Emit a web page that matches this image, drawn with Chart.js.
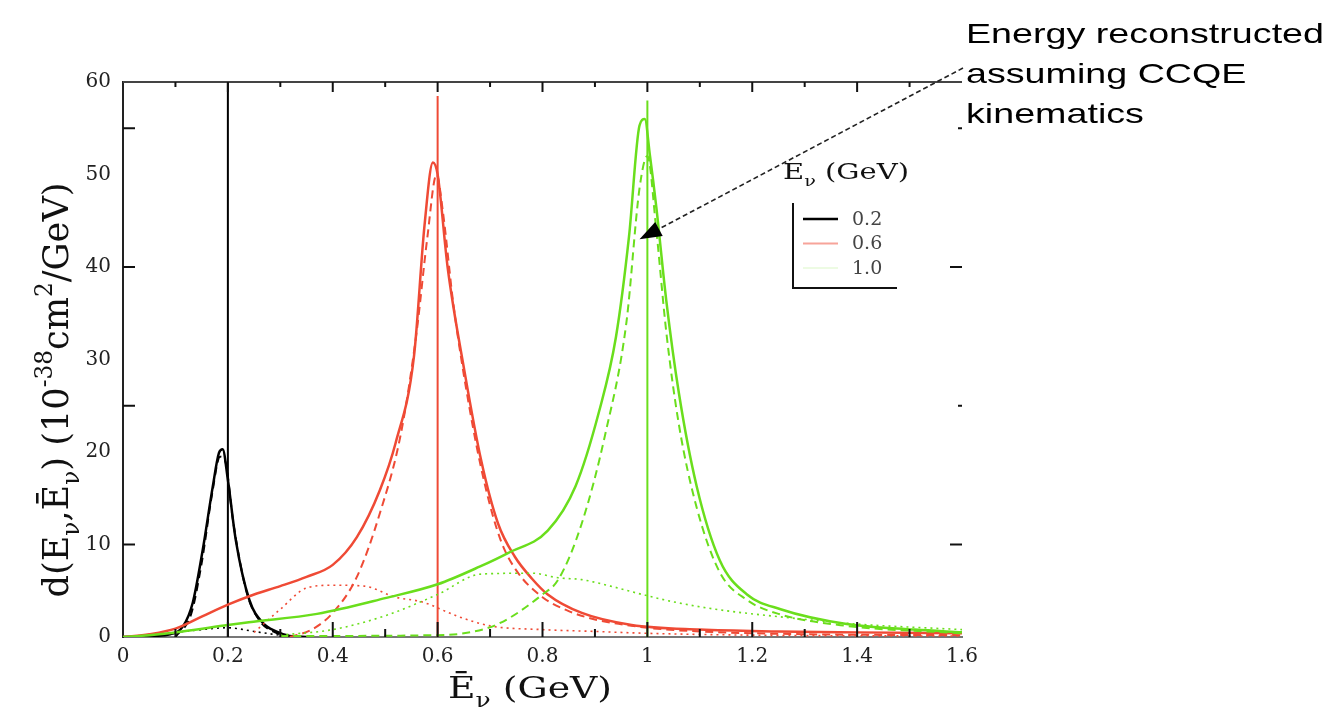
<!DOCTYPE html>
<html>
<head>
<meta charset="utf-8">
<script src="https://cdn.jsdelivr.net/npm/chart.js@4.4.1/dist/chart.umd.min.js"></script>
<style>
  body { margin: 0; background: #fff; }
  canvas { display: block; }
</style>
</head>
<body>
<canvas id="grafico" width="1327" height="707"></canvas>
<script>
// valores (x = E reconstruida en GeV, y = d(E,Ebar))
const e_negro_solida = [0.0, 0.05, 0.09, 0.115, 0.133, 0.152, 0.171, 0.183, 0.19, 0.2, 0.215, 0.241, 0.267, 0.292, 0.318, 0.35]
const y_negro_solida = [0, 0.1, 0.3, 1.2, 3.7, 9.4, 16.2, 19.9, 20.3, 17, 10.5, 4, 1.5, 0.6, 0.1, 0]
const e_negro_guiones = [0.1, 0.13, 0.15, 0.17, 0.185, 0.195, 0.21, 0.235, 0.26, 0.29, 0.33]
const y_negro_guiones = [0, 2.5, 8, 15.5, 19.5, 19, 12.5, 5, 1.8, 0.5, 0]
const e_negro_puntos = [0.02, 0.06, 0.1, 0.15, 0.2, 0.25, 0.3, 0.35]
const y_negro_puntos = [0, 0.2, 0.5, 0.8, 1.0, 0.6, 0.2, 0]

const e_rojo_solida = [0, 0.05, 0.1, 0.15, 0.2, 0.25, 0.3, 0.35, 0.4, 0.446, 0.49, 0.52, 0.555, 0.575, 0.591, 0.6, 0.619, 0.651, 0.683, 0.715, 0.747, 0.78, 0.81, 0.875, 0.97, 1.1, 1.25, 1.4, 1.6]
const y_rojo_solida = [0, 0.3, 0.9, 2.2, 3.5, 4.6, 5.5, 6.5, 7.8, 10.8, 15.9, 21, 30.4, 44.5, 51.3, 50, 40, 28.8, 19.1, 12.3, 8.7, 6.3, 4.6, 2.6, 1.3, 0.8, 0.6, 0.5, 0.4]
const e_rojo_guiones = [0.318, 0.36, 0.4, 0.446, 0.49, 0.53, 0.56, 0.58, 0.598, 0.61, 0.63, 0.66, 0.69, 0.72, 0.75, 0.8, 0.85, 0.9, 1.0, 1.1, 1.3, 1.6]
const y_rojo_guiones = [0, 0.8, 2.6, 6.5, 13.4, 22, 33, 43, 50, 46, 36, 25, 16.5, 10.5, 7.2, 4.3, 2.8, 1.9, 1.0, 0.6, 0.3, 0.2]
const e_rojo_puntos = [0.25, 0.3, 0.35, 0.4, 0.46, 0.52, 0.57, 0.64, 0.7, 0.8, 0.9, 1.0, 1.2, 1.6]
const y_rojo_puntos = [0.5, 3, 5.3, 5.6, 5.5, 4.3, 3.8, 2.2, 1.2, 0.8, 0.6, 0.4, 0.2, 0.1]

const e_verde_solida = [0, 0.05, 0.113, 0.2, 0.24, 0.37, 0.5, 0.6, 0.68, 0.735, 0.81, 0.863, 0.908, 0.94, 0.965, 0.985, 0.995, 1.005, 1.017, 1.036, 1.06, 1.094, 1.138, 1.19, 1.254, 1.38, 1.51, 1.6]
const y_verde_solida = [0, 0.2, 0.6, 1.3, 1.6, 2.5, 4.2, 5.7, 7.6, 9.1, 11.5, 16.3, 24.4, 32.4, 43.3, 55.3, 56, 52, 46.5, 36.4, 26.4, 16.3, 8.3, 4.6, 3, 1.4, 0.8, 0.5]
const e_verde_guiones = [0.3, 0.6, 0.65, 0.715, 0.8, 0.83, 0.875, 0.92, 0.96, 0.985, 1.0, 1.017, 1.036, 1.06, 1.094, 1.138, 1.19, 1.25, 1.38, 1.6]
const y_verde_guiones = [0.1, 0.2, 0.4, 1.4, 4.6, 6.2, 12.3, 22, 34, 48.5, 52, 44, 33, 23, 14, 7, 4, 2.5, 1.2, 0.4]
const e_verde_puntos = [0.3, 0.4, 0.5, 0.6, 0.683, 0.78, 0.83, 0.875, 0.93, 0.99, 1.05, 1.13, 1.25, 1.4, 1.6]
const y_verde_puntos = [0.2, 0.8, 2.3, 4.6, 6.8, 6.9, 6.4, 6.2, 5.5, 4.6, 3.8, 3.0, 2.2, 1.4, 0.8]

// energia verdadera (lineas verticales) y su altura en la figura
const energias_verdaderas = [0.2, 0.6, 1.0]
const alto_lineas = [60, 58.5, 58]
const etiquetas_leyenda = ["0.2", "0.6", "1.0"]
const colores = ["#000000", "#ef4a35", "#6ade1c"]

const ticks_x_mayor = [0.2, 0.4, 0.6, 0.8, 1.0, 1.2, 1.4]
const ticks_x_menor = [0.1, 0.3, 0.5, 0.7, 0.9, 1.1, 1.3, 1.5]
const ticks_y_izq = [10, 25, 40, 55]
const ticks_y_der_largo = [10, 40]
const ticks_y_der_corto = [25, 55]

const serif = "'DejaVu Serif'"

function puntos(xs, ys) {
    return xs.map((x, i) => ({ x: x, y: ys[i] }))
}

function curva(xs, ys, color, tipo) {
    const d = {
        data: puntos(xs, ys),
        borderColor: color,
        borderWidth: 2.5,
        pointRadius: 0,
        fill: false
    }
    if (tipo == "guiones") { d.borderDash = [8, 5]; d.borderWidth = 2 }
    if (tipo == "puntos") { d.borderDash = [2, 4]; d.borderWidth = 1.6 }
    return d
}

const datasets = [
    curva(e_verde_puntos, y_verde_puntos, colores[2], "puntos"),
    curva(e_verde_guiones, y_verde_guiones, colores[2], "guiones"),
    curva(e_verde_solida, y_verde_solida, colores[2], "solida"),
    curva(e_rojo_puntos, y_rojo_puntos, colores[1], "puntos"),
    curva(e_rojo_guiones, y_rojo_guiones, colores[1], "guiones"),
    curva(e_rojo_solida, y_rojo_solida, colores[1], "solida"),
    curva(e_negro_puntos, y_negro_puntos, colores[0], "puntos"),
    curva(e_negro_guiones, y_negro_guiones, colores[0], "guiones"),
    curva(e_negro_solida, y_negro_solida, colores[0], "solida"),
]
for (let i = 0; i < energias_verdaderas.length; i++) {
    const ev = energias_verdaderas[i]
    datasets.push({
        data: puntos([ev, ev], [0, alto_lineas[i]]),
        borderColor: colores[i],
        borderWidth: 2,
        pointRadius: 0,
        fill: false
    })
}

// texto con subindices / superindices
function medir(ctx, partes, size, familia) {
    let w = 0
    for (const p of partes) {
        const s = p[1] ? size * 0.66 : size
        ctx.font = `${s}px ${familia}`
        w += ctx.measureText(p[0]).width
    }
    return w
}
function pintar(ctx, partes, x, y, size, familia) {
    let cx = x
    for (const p of partes) {
        const s = p[1] ? size * 0.66 : size
        const dy = p[1] == "sub" ? size * 0.3 : p[1] == "sup" ? -size * 0.45 : 0
        ctx.font = `${s}px ${familia}`
        ctx.fillText(p[0], cx, y + dy)
        cx += ctx.measureText(p[0]).width
    }
}
function texto_estirado(ctx, partes, cx, base, size, familia, ancho, rotar, escala_cruz) {
    const w = medir(ctx, partes, size, familia)
    ctx.save()
    ctx.translate(cx, base)
    if (rotar) ctx.rotate(-Math.PI / 2)
    ctx.scale(ancho / w, escala_cruz)
    pintar(ctx, partes, -w / 2, 0, size, familia)
    ctx.restore()
}

const titulo_y = [["d(E"], ["ν", "sub"], [","], ["Ē"], ["ν", "sub"], [") (10"], ["-38", "sup"], ["cm"], ["2", "sup"], ["/GeV)"]]
const titulo_x = [["Ē"], ["ν", "sub"], [" (GeV)"]]
const titulo_leyenda = [["E"], ["ν", "sub"], [" (GeV)"]]
const nota = ["Energy reconstructed", "assuming CCQE", "kinematics"]

const decoraciones = {
    id: "decoraciones",
    afterDraw(chart) {
        const ctx = chart.ctx
        const area = chart.chartArea
        const sx = chart.scales.x
        const sy = chart.scales.y
        ctx.save()
        // marco superior
        ctx.strokeStyle = "#444"
        ctx.lineWidth = 2
        ctx.beginPath()
        ctx.moveTo(area.left, area.top)
        ctx.lineTo(area.right, area.top)
        ctx.stroke()

        ctx.strokeStyle = "#111"
        ctx.lineWidth = 2
        function raya(x1, y1, x2, y2) {
            ctx.beginPath(); ctx.moveTo(x1, y1); ctx.lineTo(x2, y2); ctx.stroke()
        }
        for (const v of ticks_x_mayor) {
            const px = sx.getPixelForValue(v)
            raya(px, area.bottom, px, area.bottom - 15)
            raya(px, area.top, px, area.top + 10)
        }
        for (const v of ticks_x_menor) {
            const px = sx.getPixelForValue(v)
            raya(px, area.bottom, px, area.bottom - 8)
            raya(px, area.top, px, area.top + 5)
        }
        for (const v of ticks_y_izq) {
            const py = sy.getPixelForValue(v)
            raya(area.left, py, area.left + 12, py)
        }
        for (const v of ticks_y_der_largo) {
            const py = sy.getPixelForValue(v)
            raya(area.right - 12, py, area.right, py)
        }
        for (const v of ticks_y_der_corto) {
            const py = sy.getPixelForValue(v)
            raya(area.right - 4, py, area.right, py)
        }

        // titulos de ejes
        ctx.fillStyle = "#111"
        ctx.textBaseline = "alphabetic"
        texto_estirado(ctx, titulo_y, 68, 390, 33, serif, 415, true, 1.1)
        texto_estirado(ctx, titulo_x, 530, 698, 30, serif, 164, false, 1)

        // leyenda
        texto_estirado(ctx, titulo_leyenda, 846, 179, 22, serif, 126, false, 1)
        ctx.strokeStyle = "#111"
        ctx.lineWidth = 2
        ctx.beginPath()
        ctx.moveTo(793, 203); ctx.lineTo(793, 288); ctx.lineTo(897, 288)
        ctx.stroke()
        const alfas = [1, 0.5, 0.12]
        for (let i = 0; i < etiquetas_leyenda.length; i++) {
            const yy = 219 + i * 24.5
            ctx.globalAlpha = alfas[i]
            ctx.strokeStyle = colores[i]
            ctx.lineWidth = i == 0 ? 2.5 : 2
            raya(803, yy, 838, yy)
            ctx.globalAlpha = 1
            ctx.fillStyle = "#444"
            ctx.font = `19px ${serif}`
            ctx.textBaseline = "middle"
            ctx.fillText(etiquetas_leyenda[i], 852, yy + 1)
        }

        // nota con flecha
        ctx.textBaseline = "alphabetic"
        ctx.fillStyle = "#000"
        ctx.font = "28px 'Liberation Sans'"
        const w0 = ctx.measureText(nota[0]).width
        const esc = 358 / w0
        for (let i = 0; i < nota.length; i++) {
            ctx.save()
            ctx.translate(966, 43 + i * 40)
            ctx.scale(esc, 1)
            ctx.fillText(nota[i], 0, 0)
            ctx.restore()
        }
        const punta_x = sx.getPixelForValue(0.985)
        const punta_y = sy.getPixelForValue(43)
        const cola_x = 963, cola_y = 68
        const ang = Math.atan2(punta_y - cola_y, punta_x - cola_x)
        const largo = 22
        ctx.strokeStyle = "#222"
        ctx.lineWidth = 1.6
        ctx.setLineDash([5, 3])
        raya(cola_x, cola_y, punta_x - largo * Math.cos(ang), punta_y - largo * Math.sin(ang))
        ctx.setLineDash([])
        ctx.fillStyle = "#000"
        ctx.beginPath()
        ctx.moveTo(punta_x, punta_y)
        ctx.lineTo(punta_x - largo * Math.cos(ang) + 8 * Math.sin(ang), punta_y - largo * Math.sin(ang) - 8 * Math.cos(ang))
        ctx.lineTo(punta_x - largo * Math.cos(ang) - 8 * Math.sin(ang), punta_y - largo * Math.sin(ang) + 8 * Math.cos(ang))
        ctx.closePath()
        ctx.fill()
        ctx.restore()
    }
}

new Chart(document.getElementById("grafico"), {
    type: "line",
    data: { datasets: datasets },
    options: {
        responsive: false,
        animation: false,
        devicePixelRatio: 1,
        layout: { padding: { left: 0, right: 365, top: 82, bottom: 0 } },
        plugins: {
            legend: { display: false },
            tooltip: { enabled: false }
        },
        elements: {
            point: { radius: 0 },
            line: { cubicInterpolationMode: "monotone" }
        },
        scales: {
            x: {
                type: "linear",
                min: 0,
                max: 1.6,
                ticks: {
                    stepSize: 0.2,
                    padding: 8,
                    color: "#222",
                    font: { family: "DejaVu Serif", size: 20 },
                    callback: v => String(Number(v.toFixed(1)))
                },
                grid: { display: false, drawTicks: false },
                border: { display: true, color: "#777", width: 2 },
                afterFit: s => { s.height = 70 }
            },
            y: {
                min: 0,
                max: 60,
                ticks: {
                    stepSize: 10,
                    padding: 12,
                    color: "#222",
                    font: { family: "DejaVu Serif", size: 20 }
                },
                grid: { display: false, drawTicks: false },
                border: { display: true, color: "#222", width: 2 },
                afterFit: s => { s.width = 123 }
            }
        }
    },
    plugins: [decoraciones]
})
</script>
</body>
</html>
